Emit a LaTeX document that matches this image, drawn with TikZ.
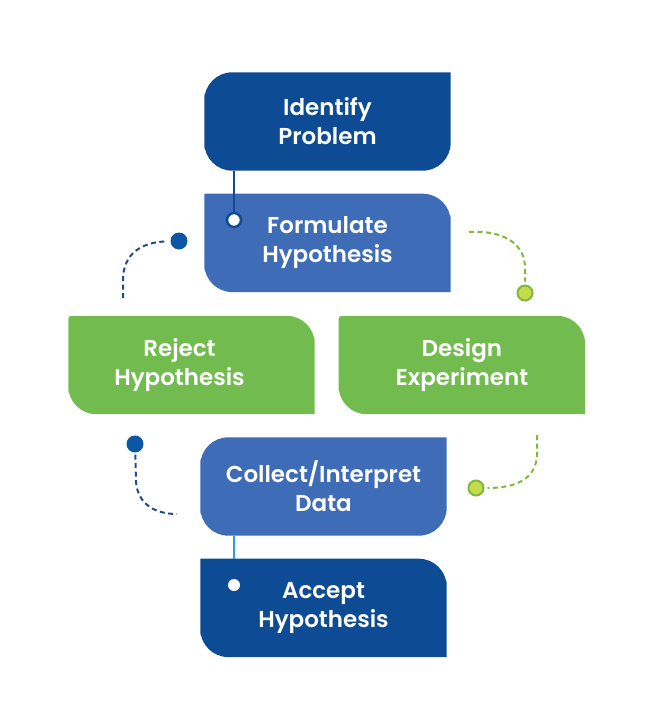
\documentclass[tikz,border=0pt]{standalone}
\usepackage{xcolor}
\usepackage{fontspec}
\setmainfont{Poppins SemiBold}
\usepackage{tikz}
\usetikzlibrary{positioning}

\definecolor{navy}{HTML}{0D4C94}
\definecolor{midblue}{HTML}{3E6CB7}
\definecolor{leaf}{HTML}{72BC4F}
\definecolor{dotblue}{HTML}{0B57A6}
\definecolor{dashblue}{HTML}{1D4E89}
\definecolor{dashgreen}{HTML}{7DBA3F}
\definecolor{lime}{HTML}{C5DB4A}
\definecolor{sky}{HTML}{2F9BD7}

\pgfdeclarelayer{back}
\pgfsetlayers{back,main}

\tikzset{
  box/.style={minimum width=246pt, minimum height=98pt, inner sep=0pt, text=white,
    align=center, font=\fontsize{23}{29}\selectfont},
  big/.style={rounded corners=28pt},
  small/.style={rounded corners=3pt},
  flat/.style={sharp corners},
  navydot/.style={circle, fill=dotblue, minimum size=17pt, inner sep=0pt},
  limedot/.style={circle, fill=lime, draw=dashgreen, line width=2pt, minimum size=15pt, inner sep=0pt},
  trail/.style={line width=2pt, dash pattern=on 5pt off 3.5pt, shorten <=2pt, shorten >=3pt},
}

% box fill: node, colour, then nw, ne, se, sw corner styles
\newcommand{\leafbox}[6]{%
  \begin{pgfonlayer}{back}
    \fill[#2] (#1.north) [#4] -- (#1.north east) -- (#1.east) [#5] -- (#1.south east)
      -- (#1.south) [#6] -- (#1.south west) -- (#1.west) [#3] -- (#1.north west) -- cycle;
  \end{pgfonlayer}}

\begin{document}
\begin{tikzpicture}[x=1pt,y=-1pt]
  \useasboundingbox (0,0) rectangle (648,720);

  \node[box] (identify) at (327.5,121.5) {Identify\\Problem};
  \node[box] (formulate) [below=23pt of identify] {Formulate\\Hypothesis};
  \node[box] (reject) at (191.5,365) {\hspace*{-24pt}Reject\\\hspace*{-24pt}Hypothesis};
  \node[box] (design) [right=24pt of reject] {Design\\Experiment};
  \node[box] (collect) at (323.5,486.5) {Collect/Interpret\\Data};
  \node[box] (accept) [below=23pt of collect] {Accept\\Hypothesis};

  \leafbox{identify}{navy}{big}{flat}{big}{big}
  \leafbox{formulate}{midblue}{flat}{big}{flat}{big}
  \leafbox{reject}{leaf}{small}{big}{flat}{big}
  \leafbox{design}{leaf}{small}{big}{flat}{big}
  \leafbox{collect}{midblue}{big}{flat}{big}{big}
  \leafbox{accept}{navy}{flat}{big}{flat}{big}

  % stems between the blue boxes
  \node[circle, fill=white, draw=navy, line width=2.5pt, minimum size=14pt, inner sep=0pt] (ring) at (234,220) {};
  \draw[navy, line width=2.5pt] (identify.south -| ring) -- (ring);
  \node[circle, fill=white, minimum size=12pt, inner sep=0pt] (pin) at (234,585) {};
  \draw[sky, line width=2.5pt] (collect.south -| pin) -- (accept.north -| pin);

  % dashed trails
  \node[navydot] (dotA) at (179,241) {};
  \coordinate (tailA) at (123,300);
  \draw[trail, dashblue] (tailA) -- (123,280) .. controls (123,254) and (141,242) .. (dotA);

  \node[limedot] (dotB) at (525,293) {};
  \coordinate (tailB) at (467,232);
  \draw[trail, dashgreen] (tailB) .. controls (507,230) and (525,246) .. (525,268) -- (dotB);

  \node[navydot] (dotC) at (135,444) {};
  \coordinate (tailC) at (180,514);
  \draw[trail, dashblue] (dotC) -- (136,482) .. controls (138,505) and (156,514) .. (tailC);

  \node[limedot] (dotD) at (476,488) {};
  \coordinate (tailD) at (537,433);
  \draw[trail, dashgreen] (tailD) -- (537,455) .. controls (536,479) and (516,488) .. (dotD);
\end{tikzpicture}
\end{document}
